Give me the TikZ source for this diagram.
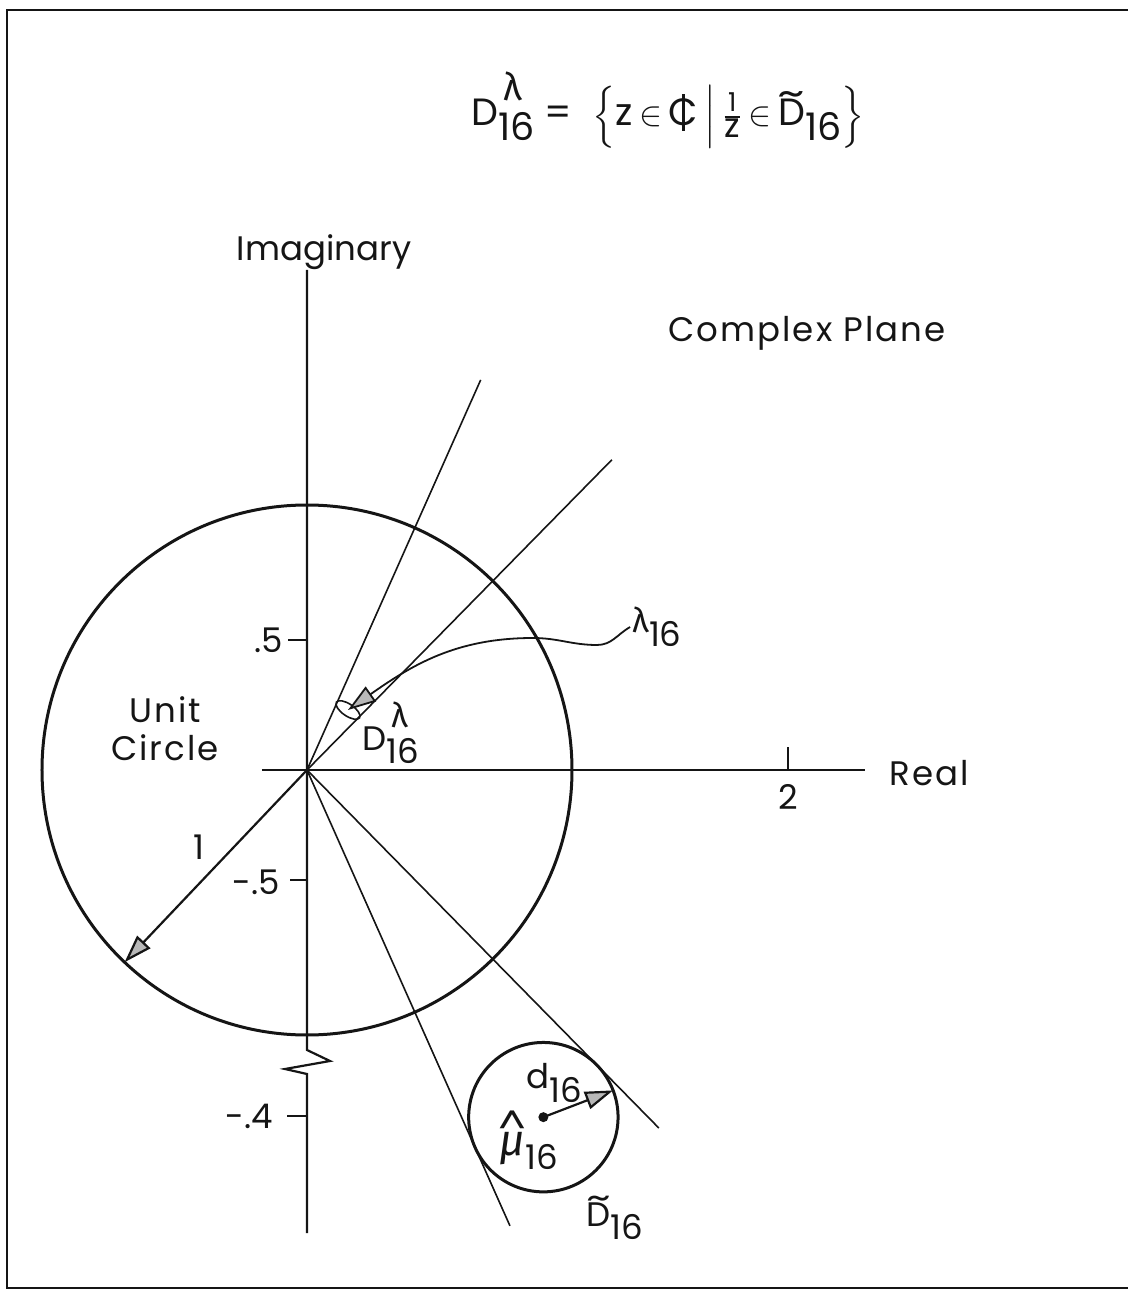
\documentclass[tikz,border=0pt]{standalone}
\usepackage{amsmath}
\usepackage{fontspec}
\setmainfont{Poppins}
\newfontfamily\widefont{Poppins}[LetterSpace=6]
\newfontfamily\grkfont{Fira Sans}
\usepackage{tikz}
\usetikzlibrary{arrows.meta,positioning,calc}
\definecolor{ink}{HTML}{151515}
\definecolor{headgray}{HTML}{B8B8B8}
\newcommand{\lettersize}{\fontsize{17}{19}\selectfont}
\newcommand{\titlesize}{\fontsize{19}{21}\selectfont}
\newcommand{\cbar}{\ooalign{C\cr\hidewidth\rule[-0.14em]{0.07em}{0.98em}\hidewidth\cr}}
\newcommand{\lowsub}[1]{\raisebox{-0.4em}{#1}}
\newcommand{\supsub}[2]{\makebox[0pt][l]{\kern0.14em\raisebox{0.66em}{#1}}\lowsub{#2}}
\newcommand{\grklam}{{\grkfont λ}}
\newcommand{\tildeD}{\ooalign{\hidewidth\raisebox{0.5em}{\scalebox{1.4}[1]{\textasciitilde}}\hidewidth\cr D\cr}}
\newcommand{\hatmu}{\ooalign{\hidewidth\raisebox{0.62em}{\scalebox{1.3}[1]{\textasciicircum}}\hidewidth\cr{\grkfont\itshape\fontsize{22}{22}\selectfont μ}\cr}}
\tikzset{
  lettering/.style={font=\lettersize, text=ink, inner sep=1pt, align=center},
  widelettering/.style={lettering, font=\lettersize\widefont},
  framerule/.style={draw=ink, line width=1pt},
  axisline/.style={draw=ink, line width=1.1pt},
  rayline/.style={draw=ink, line width=0.8pt},
  circline/.style={draw=ink, line width=1.5pt},
  ptrarrow/.style={draw=ink, line width=1.1pt,
    -{Triangle[length=14pt, width=9pt, fill=headgray]}},
}

\begin{document}
\begin{tikzpicture}[x=0.5pt, y=0.5pt]
  \useasboundingbox (-307,-526) rectangle (821,770);
  \draw[framerule] (821,760) -- (-300,760) -- (-300,-518) -- (821,-518);
  % axes
  \coordinate (O) at (0,0);
  \draw[axisline] (0,500) -- (0,-280) -- (23,-291) -- (-22,-299) -- (0,-304) -- (0,-463);
  \draw[axisline] (-45,0) -- (558,0);
  \draw[axisline] (0,130) -- (-19,130);
  \draw[axisline] (0,-110) -- (-17,-110);
  \draw[axisline] (0,-346) -- (-20,-346);
  \draw[axisline] (481,0) -- (481,23);
  \node[lettering, anchor=east] (tickA) at (-22,130) {.5};
  \node[lettering, anchor=east] (tickB) at (-25,-112) {-.5};
  \node[lettering, anchor=east] (tickC) at (-32,-346) {-.4};
  \node[lettering] (tickD) at (481,-27) {2};
  \node[lettering] (imag) at (17,518) {Imaginary};
  \node[widelettering, anchor=west] (real) at (580,-3) {Real};
  \node[widelettering] (plane) at (500,437) {Complex Plane};
  \node[lettering, font=\titlesize] (setdef) at (361,660)
    {D\supsub{\grklam}{16} = \ $\Bigl\{$z\,$\in$\,\cbar\,$\Big|$\,$\frac{\text{\fontsize{13}{13}\selectfont 1}}{\text{\fontsize{17}{17}\selectfont z}}$\,$\in$\,\tildeD\lowsub{16}$\Bigr\}$};
  % unit circle and radius
  \draw[circline] (O) circle[radius=265];
  \node[widelettering] (unit) at (-142,41) {Unit\\Circle};
  \draw[ptrarrow] (O) -- (226.5:265);
  \node[lettering] (one) at (-108,-77) {1};
  % rays of the sector and its reciprocal
  \draw[rayline] (O) -- (66:427);
  \draw[rayline] (O) -- (45.5:435);
  \draw[rayline] (O) -- (-66:499);
  \draw[rayline] (O) -- (-45.5:502);
  \draw[rayline, rotate around={-34.25:(41,60)}] (41,60) ellipse[x radius=14, y radius=6];
  \coordinate (dlamc) at (41,60);
  \node[lettering] (dlam) at (84,37) {D\supsub{\grklam}{16}};
  \node[lettering] (lam) at (350,143) {\grklam\lowsub{16}};
  \draw[ptrarrow, line width=0.9pt] (lam.west) to[out=-150, in=0] (290,125)
    to[out=180, in=0] (226,132) to[out=180, in=35] (dlamc);
  % disc around mu
  \coordinate (mu) at (-55.75:420);
  \draw[circline] (mu) circle[radius=74.7];
  \fill[ink] (mu) circle[radius=5];
  \draw[ptrarrow] (mu) -- ([shift={(21:74.7)}]mu);
  \node[lettering] (dlab) at (247,-313) {d\lowsub{16}};
  \node[lettering] (mulab) at (222,-370) {\hatmu\lowsub{16}};
  \node[lettering] (dtil) at (308,-448) {\tildeD\lowsub{16}};
\end{tikzpicture}
\end{document}
